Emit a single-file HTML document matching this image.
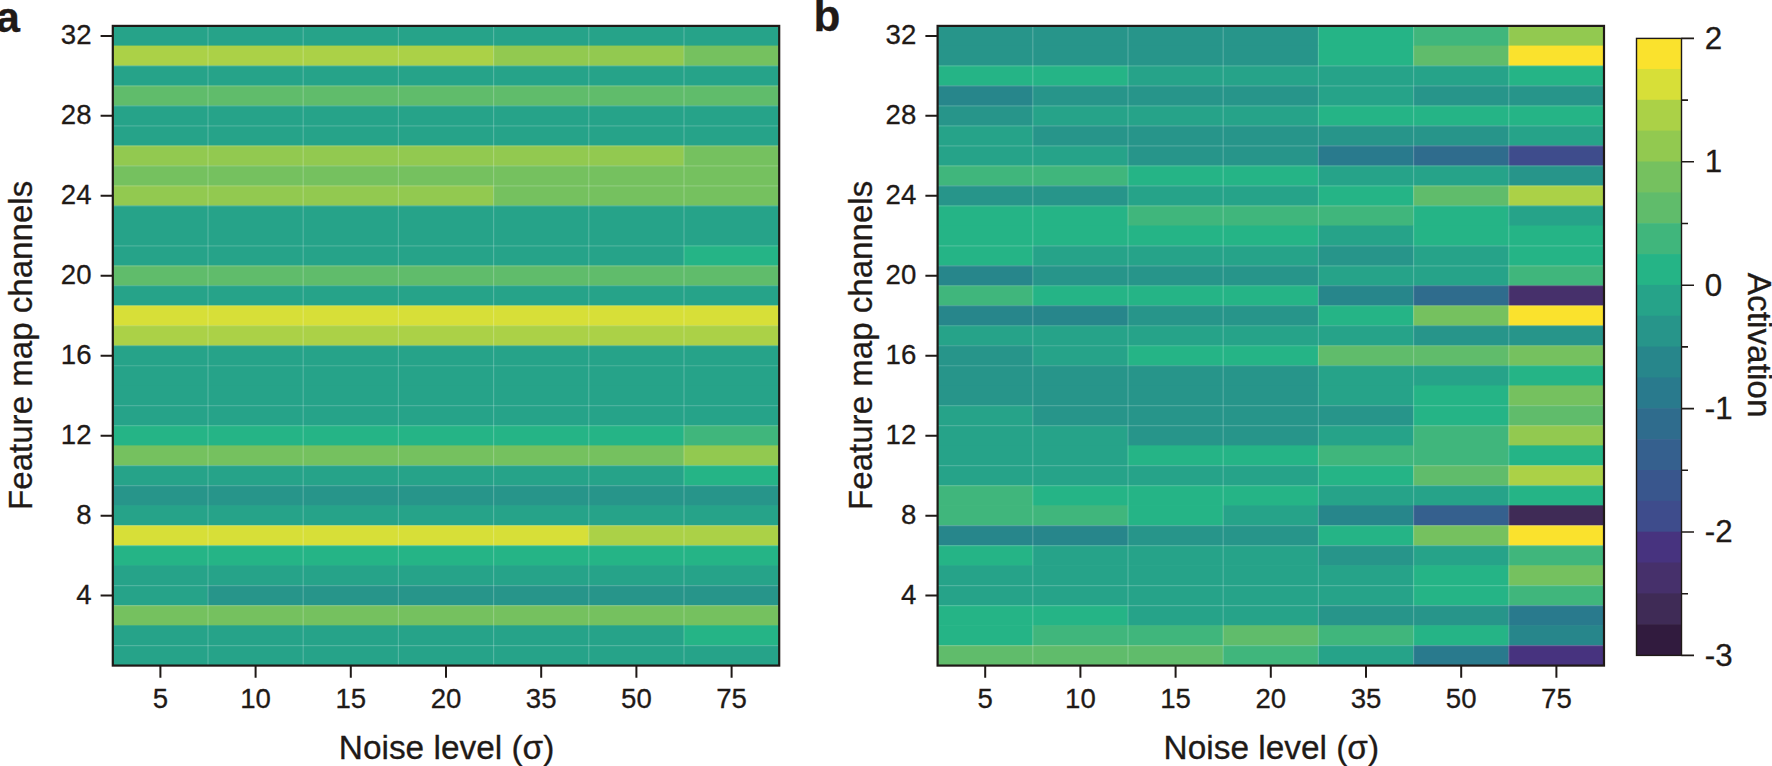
<!DOCTYPE html>
<html lang="en">
<head>
<meta charset="utf-8">
<title>Feature map activations versus noise level</title>
<style>
html,body{margin:0;padding:0;background:#ffffff;}
body{width:1772px;height:766px;overflow:hidden;}
svg{display:block;}
text{font-family:"Liberation Sans",Arial,Helvetica,sans-serif;fill:#1f1a17;stroke:#1f1a17;stroke-width:0.3px;}
.tk{font-size:27.6px;}
.cb{font-size:31.3px;}
.ti{font-size:33.4px;}
.pl{font-size:44px;font-weight:bold;}
</style>
</head>
<body>
<svg width="1772" height="766" viewBox="0 0 1772 766">
<rect x="0" y="0" width="1772" height="766" fill="#ffffff"/>
<text class="pl" x="-4" y="32.2" style="font-size:43px">a</text>
<text class="pl" x="813.6" y="31">b</text>
<g shape-rendering="auto">
<rect x="112.50" y="25.60" width="667.00" height="20.59" fill="#26a389"/>
<rect x="112.50" y="45.59" width="381.40" height="20.59" fill="#abd147"/>
<rect x="493.30" y="45.59" width="191.00" height="20.59" fill="#92c950"/>
<rect x="683.70" y="45.59" width="95.80" height="20.59" fill="#75c15f"/>
<rect x="112.50" y="65.58" width="667.00" height="20.59" fill="#26a389"/>
<rect x="112.50" y="85.57" width="667.00" height="20.59" fill="#60bc6b"/>
<rect x="112.50" y="105.56" width="667.00" height="20.59" fill="#26a389"/>
<rect x="112.50" y="125.55" width="667.00" height="20.59" fill="#26a389"/>
<rect x="112.50" y="145.54" width="571.80" height="20.59" fill="#92c950"/>
<rect x="683.70" y="145.54" width="95.80" height="20.59" fill="#75c15f"/>
<rect x="112.50" y="165.53" width="667.00" height="20.59" fill="#75c15f"/>
<rect x="112.50" y="185.52" width="381.40" height="20.59" fill="#92c950"/>
<rect x="493.30" y="185.52" width="286.20" height="20.59" fill="#75c15f"/>
<rect x="112.50" y="205.51" width="667.00" height="20.59" fill="#26a389"/>
<rect x="112.50" y="225.50" width="667.00" height="20.59" fill="#26a389"/>
<rect x="112.50" y="245.49" width="571.80" height="20.59" fill="#26a389"/>
<rect x="683.70" y="245.49" width="95.80" height="20.59" fill="#25b486"/>
<rect x="112.50" y="265.48" width="667.00" height="20.59" fill="#60bc6b"/>
<rect x="112.50" y="285.47" width="667.00" height="20.59" fill="#26a389"/>
<rect x="112.50" y="305.46" width="667.00" height="20.59" fill="#d7df38"/>
<rect x="112.50" y="325.45" width="667.00" height="20.59" fill="#abd147"/>
<rect x="112.50" y="345.44" width="667.00" height="20.59" fill="#26a389"/>
<rect x="112.50" y="365.43" width="667.00" height="20.59" fill="#26a389"/>
<rect x="112.50" y="385.42" width="667.00" height="20.59" fill="#26a389"/>
<rect x="112.50" y="405.41" width="667.00" height="20.59" fill="#26a389"/>
<rect x="112.50" y="425.40" width="571.80" height="20.59" fill="#25b486"/>
<rect x="683.70" y="425.40" width="95.80" height="20.59" fill="#40b67c"/>
<rect x="112.50" y="445.39" width="571.80" height="20.59" fill="#75c15f"/>
<rect x="683.70" y="445.39" width="95.80" height="20.59" fill="#92c950"/>
<rect x="112.50" y="465.38" width="571.80" height="20.59" fill="#26a389"/>
<rect x="683.70" y="465.38" width="95.80" height="20.59" fill="#25b486"/>
<rect x="112.50" y="485.37" width="667.00" height="20.59" fill="#27958a"/>
<rect x="112.50" y="505.36" width="667.00" height="20.59" fill="#26a389"/>
<rect x="112.50" y="525.35" width="476.60" height="20.59" fill="#d7df38"/>
<rect x="588.50" y="525.35" width="191.00" height="20.59" fill="#abd147"/>
<rect x="112.50" y="545.34" width="667.00" height="20.59" fill="#25b486"/>
<rect x="112.50" y="565.33" width="667.00" height="20.59" fill="#26a389"/>
<rect x="112.50" y="585.32" width="95.80" height="20.59" fill="#26a389"/>
<rect x="207.70" y="585.32" width="571.80" height="20.59" fill="#27958a"/>
<rect x="112.50" y="605.31" width="667.00" height="20.59" fill="#75c15f"/>
<rect x="112.50" y="625.30" width="571.80" height="20.59" fill="#26a389"/>
<rect x="683.70" y="625.30" width="95.80" height="20.59" fill="#25b486"/>
<rect x="112.50" y="645.29" width="667.00" height="20.59" fill="#26a389"/>
<path d="M208.00 25.90V665.58M303.20 25.90V665.58M398.40 25.90V665.58M493.60 25.90V665.58M588.80 25.90V665.58M684.00 25.90V665.58" stroke="#ffffff" stroke-opacity="0.22" stroke-width="1.2" fill="none"/>
<path d="M112.80 65.88H779.20M112.80 85.87H779.20M112.80 105.86H779.20M112.80 125.85H779.20M112.80 145.84H779.20M112.80 165.83H779.20M112.80 185.82H779.20M112.80 205.81H779.20M112.80 245.79H779.20M112.80 265.78H779.20M112.80 285.77H779.20M112.80 305.76H779.20M112.80 325.75H779.20M112.80 345.74H779.20M112.80 365.73H779.20M112.80 405.71H779.20M112.80 425.70H779.20M112.80 465.68H779.20M112.80 485.67H779.20M112.80 525.65H779.20M112.80 545.64H779.20M112.80 585.62H779.20M112.80 605.61H779.20M112.80 645.59H779.20" stroke="#ffffff" stroke-opacity="0.18" stroke-width="1.2" fill="none"/>
<rect x="112.80" y="25.90" width="666.40" height="639.68" fill="none" stroke="#1f1a17" stroke-width="2.2"/>
<text class="tk" text-anchor="end" x="91.50" y="603.71">4</text>
<text class="tk" text-anchor="end" x="91.50" y="523.75">8</text>
<text class="tk" text-anchor="end" x="91.50" y="443.79">12</text>
<text class="tk" text-anchor="end" x="91.50" y="363.83">16</text>
<text class="tk" text-anchor="end" x="91.50" y="283.88">20</text>
<text class="tk" text-anchor="end" x="91.50" y="203.91">24</text>
<text class="tk" text-anchor="end" x="91.50" y="123.95">28</text>
<text class="tk" text-anchor="end" x="91.50" y="43.99">32</text>
<text class="tk" text-anchor="middle" x="160.40" y="708.00">5</text>
<text class="tk" text-anchor="middle" x="255.60" y="708.00">10</text>
<text class="tk" text-anchor="middle" x="350.80" y="708.00">15</text>
<text class="tk" text-anchor="middle" x="446.00" y="708.00">20</text>
<text class="tk" text-anchor="middle" x="541.20" y="708.00">35</text>
<text class="tk" text-anchor="middle" x="636.40" y="708.00">50</text>
<text class="tk" text-anchor="middle" x="731.60" y="708.00">75</text>
<path d="M100.60 595.61H112.80M100.60 515.65H112.80M100.60 435.69H112.80M100.60 355.73H112.80M100.60 275.77H112.80M100.60 195.81H112.80M100.60 115.85H112.80M100.60 35.89H112.80M160.40 665.58V677.78M255.60 665.58V677.78M350.80 665.58V677.78M446.00 665.58V677.78M541.20 665.58V677.78M636.40 665.58V677.78M731.60 665.58V677.78" stroke="#1f1a17" stroke-width="2" fill="none"/>
<text class="ti" text-anchor="middle" x="446.55" y="758.6">Noise level (σ)</text>
<text class="ti" style="font-size:33.1px" text-anchor="middle" transform="translate(31.70 345.4) rotate(-90)">Feature map channels</text>
</g>
<g>
<rect x="937.30" y="25.60" width="381.40" height="20.59" fill="#27958a"/>
<rect x="1318.10" y="25.60" width="95.80" height="20.59" fill="#25b486"/>
<rect x="1413.30" y="25.60" width="95.80" height="20.59" fill="#40b67c"/>
<rect x="1508.50" y="25.60" width="95.80" height="20.59" fill="#92c950"/>
<rect x="937.30" y="45.59" width="381.40" height="20.59" fill="#27958a"/>
<rect x="1318.10" y="45.59" width="95.80" height="20.59" fill="#25b486"/>
<rect x="1413.30" y="45.59" width="95.80" height="20.59" fill="#60bc6b"/>
<rect x="1508.50" y="45.59" width="95.80" height="20.59" fill="#fae22d"/>
<rect x="937.30" y="65.58" width="191.00" height="20.59" fill="#25b486"/>
<rect x="1127.70" y="65.58" width="381.40" height="20.59" fill="#26a389"/>
<rect x="1508.50" y="65.58" width="95.80" height="20.59" fill="#25b486"/>
<rect x="937.30" y="85.57" width="95.80" height="20.59" fill="#27868b"/>
<rect x="1032.50" y="85.57" width="286.20" height="20.59" fill="#27958a"/>
<rect x="1318.10" y="85.57" width="95.80" height="20.59" fill="#26a389"/>
<rect x="1413.30" y="85.57" width="191.00" height="20.59" fill="#27958a"/>
<rect x="937.30" y="105.56" width="95.80" height="20.59" fill="#27958a"/>
<rect x="1032.50" y="105.56" width="286.20" height="20.59" fill="#26a389"/>
<rect x="1318.10" y="105.56" width="286.20" height="20.59" fill="#25b486"/>
<rect x="937.30" y="125.55" width="95.80" height="20.59" fill="#26a389"/>
<rect x="1032.50" y="125.55" width="476.60" height="20.59" fill="#27958a"/>
<rect x="1508.50" y="125.55" width="95.80" height="20.59" fill="#26a389"/>
<rect x="937.30" y="145.54" width="191.00" height="20.59" fill="#26a389"/>
<rect x="1127.70" y="145.54" width="191.00" height="20.59" fill="#27958a"/>
<rect x="1318.10" y="145.54" width="95.80" height="20.59" fill="#297a8d"/>
<rect x="1413.30" y="145.54" width="95.80" height="20.59" fill="#2f6c8d"/>
<rect x="1508.50" y="145.54" width="95.80" height="20.59" fill="#3e4c8c"/>
<rect x="937.30" y="165.53" width="191.00" height="20.59" fill="#40b67c"/>
<rect x="1127.70" y="165.53" width="191.00" height="20.59" fill="#25b486"/>
<rect x="1318.10" y="165.53" width="191.00" height="20.59" fill="#26a389"/>
<rect x="1508.50" y="165.53" width="95.80" height="20.59" fill="#27958a"/>
<rect x="937.30" y="185.52" width="191.00" height="20.59" fill="#27958a"/>
<rect x="1127.70" y="185.52" width="191.00" height="20.59" fill="#26a389"/>
<rect x="1318.10" y="185.52" width="95.80" height="20.59" fill="#25b486"/>
<rect x="1413.30" y="185.52" width="95.80" height="20.59" fill="#60bc6b"/>
<rect x="1508.50" y="185.52" width="95.80" height="20.59" fill="#abd147"/>
<rect x="937.30" y="205.51" width="191.00" height="20.59" fill="#25b486"/>
<rect x="1127.70" y="205.51" width="286.20" height="20.59" fill="#40b67c"/>
<rect x="1413.30" y="205.51" width="95.80" height="20.59" fill="#25b486"/>
<rect x="1508.50" y="205.51" width="95.80" height="20.59" fill="#26a389"/>
<rect x="937.30" y="225.50" width="381.40" height="20.59" fill="#25b486"/>
<rect x="1318.10" y="225.50" width="95.80" height="20.59" fill="#26a389"/>
<rect x="1413.30" y="225.50" width="191.00" height="20.59" fill="#25b486"/>
<rect x="937.30" y="245.49" width="95.80" height="20.59" fill="#25b486"/>
<rect x="1032.50" y="245.49" width="286.20" height="20.59" fill="#26a389"/>
<rect x="1318.10" y="245.49" width="95.80" height="20.59" fill="#27958a"/>
<rect x="1413.30" y="245.49" width="95.80" height="20.59" fill="#26a389"/>
<rect x="1508.50" y="245.49" width="95.80" height="20.59" fill="#25b486"/>
<rect x="937.30" y="265.48" width="95.80" height="20.59" fill="#27868b"/>
<rect x="1032.50" y="265.48" width="286.20" height="20.59" fill="#27958a"/>
<rect x="1318.10" y="265.48" width="191.00" height="20.59" fill="#26a389"/>
<rect x="1508.50" y="265.48" width="95.80" height="20.59" fill="#40b67c"/>
<rect x="937.30" y="285.47" width="95.80" height="20.59" fill="#40b67c"/>
<rect x="1032.50" y="285.47" width="286.20" height="20.59" fill="#25b486"/>
<rect x="1318.10" y="285.47" width="95.80" height="20.59" fill="#27868b"/>
<rect x="1413.30" y="285.47" width="95.80" height="20.59" fill="#2f6c8d"/>
<rect x="1508.50" y="285.47" width="95.80" height="20.59" fill="#46306b"/>
<rect x="937.30" y="305.46" width="191.00" height="20.59" fill="#27868b"/>
<rect x="1127.70" y="305.46" width="191.00" height="20.59" fill="#27958a"/>
<rect x="1318.10" y="305.46" width="95.80" height="20.59" fill="#25b486"/>
<rect x="1413.30" y="305.46" width="95.80" height="20.59" fill="#75c15f"/>
<rect x="1508.50" y="305.46" width="95.80" height="20.59" fill="#fae22d"/>
<rect x="937.30" y="325.45" width="476.60" height="20.59" fill="#26a389"/>
<rect x="1413.30" y="325.45" width="191.00" height="20.59" fill="#27958a"/>
<rect x="937.30" y="345.44" width="95.80" height="20.59" fill="#27958a"/>
<rect x="1032.50" y="345.44" width="95.80" height="20.59" fill="#26a389"/>
<rect x="1127.70" y="345.44" width="191.00" height="20.59" fill="#25b486"/>
<rect x="1318.10" y="345.44" width="191.00" height="20.59" fill="#60bc6b"/>
<rect x="1508.50" y="345.44" width="95.80" height="20.59" fill="#75c15f"/>
<rect x="937.30" y="365.43" width="381.40" height="20.59" fill="#27958a"/>
<rect x="1318.10" y="365.43" width="191.00" height="20.59" fill="#26a389"/>
<rect x="1508.50" y="365.43" width="95.80" height="20.59" fill="#25b486"/>
<rect x="937.30" y="385.42" width="381.40" height="20.59" fill="#27958a"/>
<rect x="1318.10" y="385.42" width="95.80" height="20.59" fill="#26a389"/>
<rect x="1413.30" y="385.42" width="95.80" height="20.59" fill="#25b486"/>
<rect x="1508.50" y="385.42" width="95.80" height="20.59" fill="#75c15f"/>
<rect x="937.30" y="405.41" width="95.80" height="20.59" fill="#26a389"/>
<rect x="1032.50" y="405.41" width="381.40" height="20.59" fill="#27958a"/>
<rect x="1413.30" y="405.41" width="95.80" height="20.59" fill="#25b486"/>
<rect x="1508.50" y="405.41" width="95.80" height="20.59" fill="#60bc6b"/>
<rect x="937.30" y="425.40" width="191.00" height="20.59" fill="#26a389"/>
<rect x="1127.70" y="425.40" width="191.00" height="20.59" fill="#27958a"/>
<rect x="1318.10" y="425.40" width="95.80" height="20.59" fill="#26a389"/>
<rect x="1413.30" y="425.40" width="95.80" height="20.59" fill="#40b67c"/>
<rect x="1508.50" y="425.40" width="95.80" height="20.59" fill="#92c950"/>
<rect x="937.30" y="445.39" width="191.00" height="20.59" fill="#26a389"/>
<rect x="1127.70" y="445.39" width="191.00" height="20.59" fill="#25b486"/>
<rect x="1318.10" y="445.39" width="191.00" height="20.59" fill="#40b67c"/>
<rect x="1508.50" y="445.39" width="95.80" height="20.59" fill="#25b486"/>
<rect x="937.30" y="465.38" width="381.40" height="20.59" fill="#26a389"/>
<rect x="1318.10" y="465.38" width="95.80" height="20.59" fill="#25b486"/>
<rect x="1413.30" y="465.38" width="95.80" height="20.59" fill="#60bc6b"/>
<rect x="1508.50" y="465.38" width="95.80" height="20.59" fill="#abd147"/>
<rect x="937.30" y="485.37" width="95.80" height="20.59" fill="#40b67c"/>
<rect x="1032.50" y="485.37" width="286.20" height="20.59" fill="#25b486"/>
<rect x="1318.10" y="485.37" width="191.00" height="20.59" fill="#26a389"/>
<rect x="1508.50" y="485.37" width="95.80" height="20.59" fill="#25b486"/>
<rect x="937.30" y="505.36" width="191.00" height="20.59" fill="#40b67c"/>
<rect x="1127.70" y="505.36" width="95.80" height="20.59" fill="#25b486"/>
<rect x="1222.90" y="505.36" width="95.80" height="20.59" fill="#26a389"/>
<rect x="1318.10" y="505.36" width="95.80" height="20.59" fill="#27868b"/>
<rect x="1413.30" y="505.36" width="95.80" height="20.59" fill="#35608e"/>
<rect x="1508.50" y="505.36" width="95.80" height="20.59" fill="#3f2b56"/>
<rect x="937.30" y="525.35" width="191.00" height="20.59" fill="#27868b"/>
<rect x="1127.70" y="525.35" width="191.00" height="20.59" fill="#27958a"/>
<rect x="1318.10" y="525.35" width="95.80" height="20.59" fill="#25b486"/>
<rect x="1413.30" y="525.35" width="95.80" height="20.59" fill="#75c15f"/>
<rect x="1508.50" y="525.35" width="95.80" height="20.59" fill="#fae22d"/>
<rect x="937.30" y="545.34" width="95.80" height="20.59" fill="#25b486"/>
<rect x="1032.50" y="545.34" width="286.20" height="20.59" fill="#26a389"/>
<rect x="1318.10" y="545.34" width="95.80" height="20.59" fill="#27958a"/>
<rect x="1413.30" y="545.34" width="95.80" height="20.59" fill="#26a389"/>
<rect x="1508.50" y="545.34" width="95.80" height="20.59" fill="#40b67c"/>
<rect x="937.30" y="565.33" width="476.60" height="20.59" fill="#26a389"/>
<rect x="1413.30" y="565.33" width="95.80" height="20.59" fill="#25b486"/>
<rect x="1508.50" y="565.33" width="95.80" height="20.59" fill="#75c15f"/>
<rect x="937.30" y="585.32" width="476.60" height="20.59" fill="#26a389"/>
<rect x="1413.30" y="585.32" width="95.80" height="20.59" fill="#25b486"/>
<rect x="1508.50" y="585.32" width="95.80" height="20.59" fill="#40b67c"/>
<rect x="937.30" y="605.31" width="191.00" height="20.59" fill="#25b486"/>
<rect x="1127.70" y="605.31" width="191.00" height="20.59" fill="#26a389"/>
<rect x="1318.10" y="605.31" width="191.00" height="20.59" fill="#27958a"/>
<rect x="1508.50" y="605.31" width="95.80" height="20.59" fill="#297a8d"/>
<rect x="937.30" y="625.30" width="95.80" height="20.59" fill="#25b486"/>
<rect x="1032.50" y="625.30" width="191.00" height="20.59" fill="#40b67c"/>
<rect x="1222.90" y="625.30" width="95.80" height="20.59" fill="#60bc6b"/>
<rect x="1318.10" y="625.30" width="95.80" height="20.59" fill="#40b67c"/>
<rect x="1413.30" y="625.30" width="95.80" height="20.59" fill="#25b486"/>
<rect x="1508.50" y="625.30" width="95.80" height="20.59" fill="#27868b"/>
<rect x="937.30" y="645.29" width="286.20" height="20.59" fill="#60bc6b"/>
<rect x="1222.90" y="645.29" width="95.80" height="20.59" fill="#40b67c"/>
<rect x="1318.10" y="645.29" width="95.80" height="20.59" fill="#26a389"/>
<rect x="1413.30" y="645.29" width="95.80" height="20.59" fill="#297a8d"/>
<rect x="1508.50" y="645.29" width="95.80" height="20.59" fill="#47337f"/>
<path d="M1032.80 25.90V665.58M1128.00 25.90V665.58M1223.20 25.90V665.58M1318.40 25.90V665.58M1413.60 25.90V665.58M1508.80 25.90V665.58" stroke="#ffffff" stroke-opacity="0.22" stroke-width="1.2" fill="none"/>
<path d="M937.60 65.88H1604.00M937.60 85.87H1604.00M937.60 105.86H1604.00M937.60 125.85H1604.00M937.60 145.84H1604.00M937.60 165.83H1604.00M937.60 185.82H1604.00M937.60 205.81H1604.00M937.60 245.79H1604.00M937.60 265.78H1604.00M937.60 285.77H1604.00M937.60 305.76H1604.00M937.60 325.75H1604.00M937.60 345.74H1604.00M937.60 365.73H1604.00M937.60 405.71H1604.00M937.60 425.70H1604.00M937.60 465.68H1604.00M937.60 485.67H1604.00M937.60 525.65H1604.00M937.60 545.64H1604.00M937.60 585.62H1604.00M937.60 605.61H1604.00M937.60 645.59H1604.00" stroke="#ffffff" stroke-opacity="0.18" stroke-width="1.2" fill="none"/>
<rect x="937.60" y="25.90" width="666.40" height="639.68" fill="none" stroke="#1f1a17" stroke-width="2.2"/>
<text class="tk" text-anchor="end" x="916.30" y="603.71">4</text>
<text class="tk" text-anchor="end" x="916.30" y="523.75">8</text>
<text class="tk" text-anchor="end" x="916.30" y="443.79">12</text>
<text class="tk" text-anchor="end" x="916.30" y="363.83">16</text>
<text class="tk" text-anchor="end" x="916.30" y="283.88">20</text>
<text class="tk" text-anchor="end" x="916.30" y="203.91">24</text>
<text class="tk" text-anchor="end" x="916.30" y="123.95">28</text>
<text class="tk" text-anchor="end" x="916.30" y="43.99">32</text>
<text class="tk" text-anchor="middle" x="985.20" y="708.00">5</text>
<text class="tk" text-anchor="middle" x="1080.40" y="708.00">10</text>
<text class="tk" text-anchor="middle" x="1175.60" y="708.00">15</text>
<text class="tk" text-anchor="middle" x="1270.80" y="708.00">20</text>
<text class="tk" text-anchor="middle" x="1366.00" y="708.00">35</text>
<text class="tk" text-anchor="middle" x="1461.20" y="708.00">50</text>
<text class="tk" text-anchor="middle" x="1556.40" y="708.00">75</text>
<path d="M925.40 595.61H937.60M925.40 515.65H937.60M925.40 435.69H937.60M925.40 355.73H937.60M925.40 275.77H937.60M925.40 195.81H937.60M925.40 115.85H937.60M925.40 35.89H937.60M985.20 665.58V677.78M1080.40 665.58V677.78M1175.60 665.58V677.78M1270.80 665.58V677.78M1366.00 665.58V677.78M1461.20 665.58V677.78M1556.40 665.58V677.78" stroke="#1f1a17" stroke-width="2" fill="none"/>
<text class="ti" text-anchor="middle" x="1271.35" y="758.6">Noise level (σ)</text>
<text class="ti" style="font-size:33.1px" text-anchor="middle" transform="translate(872.00 345.4) rotate(-90)">Feature map channels</text>
</g>
<g>
<rect x="1636.50" y="38.10" width="45.00" height="31.45" fill="#fae22d"/>
<rect x="1636.50" y="68.95" width="45.00" height="31.45" fill="#d7df38"/>
<rect x="1636.50" y="99.80" width="45.00" height="31.45" fill="#abd147"/>
<rect x="1636.50" y="130.65" width="45.00" height="31.45" fill="#92c950"/>
<rect x="1636.50" y="161.50" width="45.00" height="31.45" fill="#75c15f"/>
<rect x="1636.50" y="192.35" width="45.00" height="31.45" fill="#60bc6b"/>
<rect x="1636.50" y="223.20" width="45.00" height="31.45" fill="#40b67c"/>
<rect x="1636.50" y="254.05" width="45.00" height="31.45" fill="#25b486"/>
<rect x="1636.50" y="284.90" width="45.00" height="31.45" fill="#26a389"/>
<rect x="1636.50" y="315.75" width="45.00" height="31.45" fill="#27958a"/>
<rect x="1636.50" y="346.60" width="45.00" height="31.45" fill="#27868b"/>
<rect x="1636.50" y="377.45" width="45.00" height="31.45" fill="#297a8d"/>
<rect x="1636.50" y="408.30" width="45.00" height="31.45" fill="#2f6c8d"/>
<rect x="1636.50" y="439.15" width="45.00" height="31.45" fill="#35608e"/>
<rect x="1636.50" y="470.00" width="45.00" height="31.45" fill="#39568d"/>
<rect x="1636.50" y="500.85" width="45.00" height="31.45" fill="#3e4c8c"/>
<rect x="1636.50" y="531.70" width="45.00" height="31.45" fill="#47337f"/>
<rect x="1636.50" y="562.55" width="45.00" height="31.45" fill="#46306b"/>
<rect x="1636.50" y="593.40" width="45.00" height="31.45" fill="#3f2b56"/>
<rect x="1636.50" y="624.25" width="45.00" height="31.45" fill="#311b3e"/>
<rect x="1636.50" y="38.40" width="45.00" height="617.00" fill="none" stroke="#1f1a17" stroke-width="1.4"/>
<text class="cb" x="1704.8" y="48.80">2</text>
<text class="cb" x="1704.8" y="172.20">1</text>
<text class="cb" x="1704.8" y="295.60">0</text>
<text class="cb" x="1704.8" y="419.00">-1</text>
<text class="cb" x="1704.8" y="542.40">-2</text>
<text class="cb" x="1704.8" y="665.80">-3</text>
<path d="M1681.50 38.40H1694.00M1681.50 100.10H1688.00M1681.50 161.80H1694.00M1681.50 223.50H1688.00M1681.50 285.20H1694.00M1681.50 346.90H1688.00M1681.50 408.60H1694.00M1681.50 470.30H1688.00M1681.50 532.00H1694.00M1681.50 593.70H1688.00M1681.50 655.40H1694.00" stroke="#1f1a17" stroke-width="1.6" fill="none"/>
<text class="ti" text-anchor="middle" transform="translate(1748 345.1) rotate(90)">Activation</text>
</g>
</svg>
</body>
</html>
